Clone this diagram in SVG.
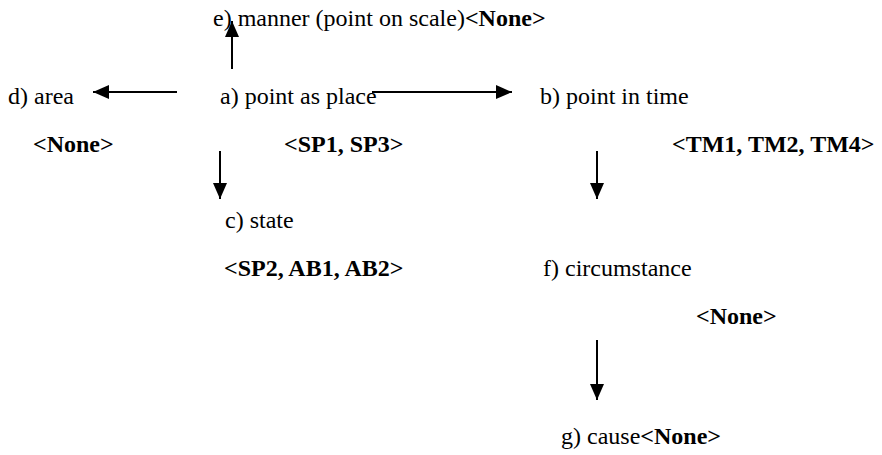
<svg xmlns="http://www.w3.org/2000/svg" width="882" height="455" viewBox="0 0 882 455">
  <style>
    .b { font-weight: bold; }
    .edge { stroke: #000; stroke-width: 2; fill: none; }
  </style>
  <defs>
    <marker id="head" markerUnits="userSpaceOnUse" markerWidth="16" markerHeight="14" refX="16" refY="7" orient="auto">
      <path d="M0,0 L16,7 L0,14 Z" fill="#000"/>
    </marker>
  </defs>
  <rect width="882" height="455" fill="#fff"/>

  <g id="connectors">
    <line class="edge" x1="232" y1="69" x2="232" y2="21" marker-end="url(#head)"/>
    <line class="edge" x1="177" y1="92" x2="93" y2="92" marker-end="url(#head)"/>
    <line class="edge" x1="372" y1="92" x2="512" y2="92" marker-end="url(#head)"/>
    <line class="edge" x1="220" y1="151" x2="220" y2="199" marker-end="url(#head)"/>
    <line class="edge" x1="597" y1="151" x2="597" y2="199" marker-end="url(#head)"/>
    <line class="edge" x1="597" y1="340" x2="597" y2="400" marker-end="url(#head)"/>
  </g>

  <g font-family="Liberation Serif, DejaVu Serif, serif" font-size="24" fill="#000">
    <g id="node-e">
      <text x="213" y="26">e) manner (point on scale)<tspan class="b">&lt;None&gt;</tspan></text>
    </g>
    <g id="node-d">
      <text x="8" y="104">d) area</text>
      <text class="b" x="33" y="152">&lt;None&gt;</text>
    </g>
    <g id="node-a">
      <text x="220" y="104">a) point as place</text>
      <text class="b" x="284" y="152">&lt;SP1, SP3&gt;</text>
    </g>
    <g id="node-b">
      <text x="540" y="104">b) point in time</text>
      <text class="b" x="672" y="152">&lt;TM1, TM2, TM4&gt;</text>
    </g>
    <g id="node-c">
      <text x="225" y="228">c) state</text>
      <text class="b" x="224" y="276">&lt;SP2, AB1, AB2&gt;</text>
    </g>
    <g id="node-f">
      <text x="543" y="276">f) circumstance</text>
      <text class="b" x="696" y="324">&lt;None&gt;</text>
    </g>
    <g id="node-g">
      <text x="561" y="444">g) cause<tspan class="b">&lt;None&gt;</tspan></text>
    </g>
  </g>
</svg>
